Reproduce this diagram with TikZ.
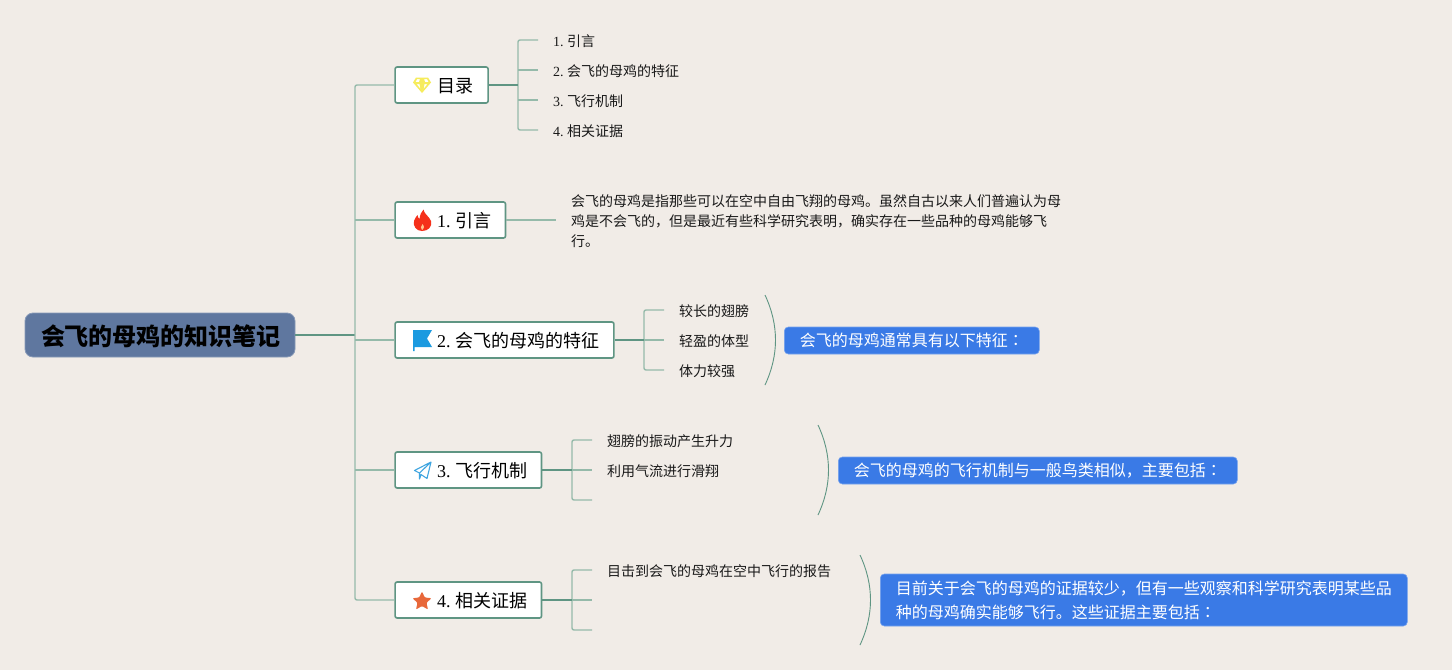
\documentclass[tikz,border=0pt]{standalone}
\usepackage{fontspec}
\setmainfont{Liberation Serif}
\newfontfamily\cjk{Noto Sans CJK SC}
\newfontfamily\cjktc{Noto Sans CJK TC}
\definecolor{bgc}{HTML}{F1ECE7}
\definecolor{dark}{HTML}{5F9583}
\definecolor{lite}{HTML}{95BAAA}
\definecolor{rootc}{HTML}{5F779F}
\definecolor{bluec}{HTML}{3A7AE6}
\definecolor{gemc}{HTML}{F6EC5C}
\definecolor{flamec}{HTML}{F5301A}
\definecolor{flagc}{HTML}{1B9AE0}
\definecolor{planec}{HTML}{3FA5E0}
\definecolor{starc}{HTML}{E8683A}
\newcommand\blab[2]{\makebox[#1][l]{\hspace*{42pt}\raisebox{-7.8pt}[0pt][0pt]{#2}}}
\newcommand\nlab[2]{\makebox[#1][l]{\hspace*{15.5pt}#2}}
\tikzset{
  branchbox/.style={draw=dark,line width=1.6pt,fill=white,rounded corners=2pt,minimum height=36pt,inner sep=0pt,anchor=west,text=black,font=\fontsize{18}{20}\selectfont},
  rootbox/.style={draw=rootc!75!white,line width=.8pt,fill=rootc,rounded corners=8pt,minimum width=270pt,minimum height=44pt,inner sep=0pt,font=\fontsize{24}{26}\selectfont\cjk\bfseries,text=black},
  leaf/.style={anchor=west,inner sep=0pt,font=\fontsize{14}{20}\selectfont,text=black!90},
  cleaf/.style={leaf,font=\fontsize{14}{20}\selectfont\cjk},
  note/.style={draw=bluec!70!white,line width=.6pt,fill=bluec,rounded corners=4pt,inner sep=0pt,text=white,font=\fontsize{16}{24}\selectfont\cjk,anchor=west},
  mainline/.style={draw=dark,line width=1.5pt},
  trunk/.style={draw=lite,line width=1.4pt,rounded corners=2pt},
  bracket/.style={draw=dark,line width=.9pt}
}
\begin{document}
\begin{tikzpicture}[x=1pt,y=-1pt]
\useasboundingbox[fill=bgc] (0,0) rectangle (1452,670);
% root and branches
\node[rootbox] (root) at (160,335) {\makebox[270pt][l]{\hspace*{16pt}\raisebox{-10.1pt}[0pt][0pt]{会飞的母鸡的知识笔记}}};
\node[branchbox,minimum width=93pt] (b0) at (394.3,85) {\blab{93pt}{\cjk 目录}};
\node[branchbox,minimum width=110.4pt] (b1) at (394.3,220) {\blab{110.4pt}{1.\hspace{4.5pt}{\cjk 引言}}};
\node[branchbox,minimum width=218.8pt] (b2) at (394.3,340) {\blab{218.8pt}{2.\hspace{4.5pt}{\cjk 会飞的母鸡的特征}}};
\node[branchbox,minimum width=146.4pt] (b3) at (394.3,470) {\blab{146.4pt}{3.\hspace{4.5pt}{\cjk 飞行机制}}};
\node[branchbox,minimum width=146.4pt] (b4) at (394.3,600) {\blab{146.4pt}{4.\hspace{4.5pt}{\cjk 相关证据}}};
% trunk
\coordinate (tr) at (355,335);
\draw[mainline] (root.east) -- (tr);
\draw[trunk] (b0.west) -| (tr) |- (b4.west);
\draw[trunk] (355,220) -- (b1.west);
\draw[trunk] (355,340) -- (b2.west);
\draw[trunk] (355,470) -- (b3.west);
% leaves of 0
\node[leaf] (l01) at (553,41) {1.\hspace{3.5pt}{\cjk 引言}};
\node[leaf] (l02) at (553,71) {2.\hspace{3.5pt}{\cjk 会飞的母鸡的特征}};
\node[leaf] (l03) at (553,101) {3.\hspace{3.5pt}{\cjk 飞行机制}};
\node[leaf] (l04) at (553,131) {4.\hspace{3.5pt}{\cjk 相关证据}};
\coordinate (e01) at (538,40); \coordinate (e02) at (538,70);
\coordinate (e03) at (538,100); \coordinate (e04) at (538,130);
\coordinate (j0) at (518,85);
\draw[trunk] (e01) -| (j0) |- (e04);
\draw[trunk] (518,70) -- (e02);
\draw[trunk] (518,100) -- (e03);
\draw[mainline] (b0.east) -- (j0);
% intro
\node[cleaf,align=left] (l11) at (571,221) {会飞的母鸡是指那些可以在空中自由飞翔的母鸡。虽然自古以来人们普遍认为母\\鸡是不会飞的，但是最近有些科学研究表明，确实存在一些品种的母鸡能够飞\\行。};
\coordinate (e11) at (556,220);
\draw[trunk] (b1.east) -- (e11);
% leaves of 2
\node[cleaf] (l21) at (679,311) {较长的翅膀};
\node[cleaf] (l22) at (679,341) {轻盈的体型};
\node[cleaf] (l23) at (679,371) {体力较强};
\coordinate (e21) at (664,310); \coordinate (e22) at (664,340); \coordinate (e23) at (664,370);
\coordinate (j2) at (644,340);
\draw[trunk] (e21) -| (j2) |- (e23);
\draw[trunk] (j2) -- (e22);
\draw[mainline] (b2.east) -- (j2);
\coordinate (br2a) at (765,295); \coordinate (br2b) at (765,385);
\draw[bracket] (br2a) .. controls (779,325) and (779,355) .. (br2b);
\node[note,minimum width=255pt,minimum height=27pt] (n2) at (784,340.5) {\nlab{255pt}{会飞的母鸡通常具有以下特征{\cjktc ：}}};
% leaves of 3
\node[cleaf] (l31) at (607,441) {翅膀的振动产生升力};
\node[cleaf] (l32) at (607,471) {利用气流进行滑翔};
\coordinate (e31) at (592,440); \coordinate (e32) at (592,470); \coordinate (e33) at (592,500);
\coordinate (j3) at (572,470);
\draw[trunk] (e31) -| (j3) |- (e33);
\draw[trunk] (j3) -- (e32);
\draw[mainline] (b3.east) -- (j3);
\coordinate (br3a) at (818,425); \coordinate (br3b) at (818,515);
\draw[bracket] (br3a) .. controls (832,455) and (832,485) .. (br3b);
\node[note,minimum width=399pt,minimum height=27pt] (n3) at (838,470.5) {\nlab{399pt}{会飞的母鸡的飞行机制与一般鸟类相似，主要包括{\cjktc ：}}};
% leaves of 4
\node[cleaf] (l41) at (607,571) {目击到会飞的母鸡在空中飞行的报告};
\coordinate (e41) at (592,570); \coordinate (e42) at (592,600); \coordinate (e43) at (592,630);
\coordinate (j4) at (572,600);
\draw[trunk] (e41) -| (j4) |- (e43);
\draw[trunk] (j4) -- (e42);
\draw[mainline] (b4.east) -- (j4);
\coordinate (br4a) at (860,555); \coordinate (br4b) at (860,645);
\draw[bracket] (br4a) .. controls (874,585) and (874,615) .. (br4b);
\node[note,minimum width=527pt,minimum height=52pt] (n4) at (880,600) {\nlab{527pt}{\parbox{505pt}{\raggedright 目前关于会飞的母鸡的证据较少，但有一些观察和科学研究表明某些品\\种的母鸡确实能够飞行。这些证据主要包括{\cjktc ：}}}};
% icons
\fill[gemc,even odd rule] (416,77.5) -- (428,77.5) -- (431,82.5) -- (422,93) -- (413,82.5) -- cycle
  (417,79) -- (415.5,82) -- (419,82) -- (420,79) -- cycle
  (424,79) -- (425,82) -- (428.5,82) -- (427,79) -- cycle
  (416.5,84) -- (420.5,89) -- (419.5,84) -- cycle
  (427.5,84) -- (423.5,89) -- (424.5,84) -- cycle;
\fill[flamec] (423.5,209.5) .. controls (424,214) and (429,216) .. (431,221)
  .. controls (432.5,227) and (428,231) .. (422,231)
  .. controls (416,231) and (413,226) .. (414,221)
  .. controls (415,218) and (416,217) .. (417.5,215)
  .. controls (418,217) and (418.5,218.5) .. (419.5,219)
  .. controls (420,215) and (421,212) .. (423.5,209.5) -- cycle;
\fill[white!55!orange] (422.5,224) .. controls (424.5,226.5) and (424.5,228) .. (422,230) .. controls (420.5,228) and (420.5,226.5) .. (422.5,224) -- cycle;
\fill[flagc] (413,330) -- (432,330) -- (427,338.5) -- (432,347) -- (414.5,347) -- (414.5,351) -- (413,351) -- cycle;
\draw[planec,line width=1.1pt,line join=round] (431,462) -- (414.5,470.5) -- (419.5,473) -- (431,462) -- (427,478.5) -- (421,474.5) -- (419.5,479) -- (419.5,473);
\fill[starc,rounded corners=1pt] (422,591.5) -- (424.8,597.5) -- (431.5,598.2) -- (426.5,602.8) -- (428,609.5) -- (422,606) -- (416,609.5) -- (417.5,602.8) -- (412.5,598.2) -- (419.2,597.5) -- cycle;
\end{tikzpicture}
\end{document}
